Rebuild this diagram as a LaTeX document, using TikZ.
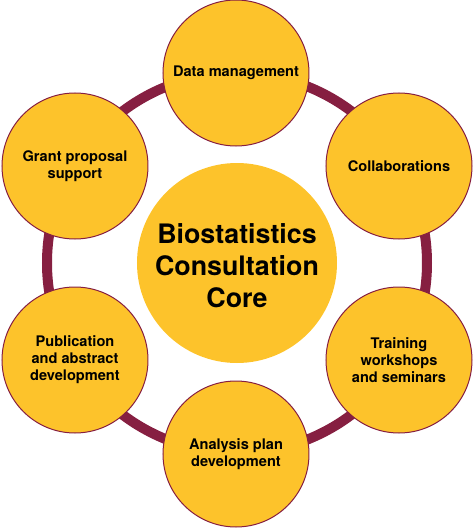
\documentclass[tikz,border=0pt]{standalone}
\usepackage{fontspec}
\setmainfont{TeX Gyre Heros}
\usetikzlibrary{positioning}
\definecolor{coremaroon}{RGB}{134,31,65}
\definecolor{coreyellow}{RGB}{253,195,43}

\begin{document}
\begin{tikzpicture}[x=1pt,y=1pt,
    service/.style={circle,draw=coremaroon,line width=1pt,fill=coreyellow,
      minimum size=146pt,inner sep=0pt,align=center,
      font=\fontsize{14.6}{17}\selectfont\bfseries},
    hub/.style={circle,fill=coreyellow,minimum size=200pt,inner sep=0pt,
      align=center,font=\fontsize{26.8}{32}\selectfont\bfseries}]
    \useasboundingbox (-237,-265) rectangle (237,263);
    \coordinate (mid) at (0,0);
    % ring behind all circles
    \draw[coremaroon,line width=10pt] (mid) circle (190);
    \node[hub] (core) at (mid) {};
    \node[font=\fontsize{26.8}{32}\selectfont\bfseries,align=center,yshift=-3pt] (title) at (core) {Biostatistics\\Consultation\\Core};
    \node[service] (data) at (-1,190) {Data management};
    \node[service] (collab) at (162,97) {Collaborations};
    \node[service] (training) at (162,-97) {Training\\workshops\\and seminars};
    \node[service] (analysis) at (-1,-191) {Analysis plan\\development};
    \node[service] (publication) at (-162,-97) {Publication\\and abstract\\development};
    \node[service] (grant) at (-162,97) {Grant proposal\\support};
\end{tikzpicture}
\end{document}
